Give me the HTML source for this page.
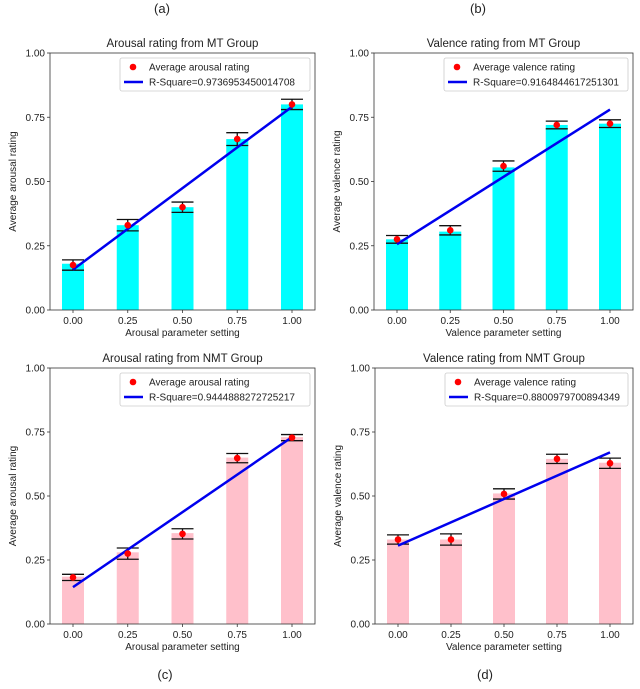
<!DOCTYPE html>
<html><head><meta charset="utf-8"><style>
body{margin:0;background:#fff;font-family:"Liberation Sans","DejaVu Sans",sans-serif;}
svg text{font-family:"Liberation Sans","DejaVu Sans",sans-serif;fill:#222;}
</style></head><body>
<svg id="c" width="640" height="684" viewBox="0 0 640 684" xmlns="http://www.w3.org/2000/svg"></svg>
<script>
const categories=[0,0.25,0.5,0.75,1.0];
const tickLabels=["0.00","0.25","0.50","0.75","1.00"];
const yTicks=[0,0.25,0.5,0.75,1.0];
const barsA=[0.18,0.33,0.40,0.665,0.80];
const meansA=[0.175,0.33,0.40,0.665,0.80];
const errA=[0.02,0.022,0.02,0.025,0.02];
const barsB=[0.275,0.305,0.555,0.72,0.725];
const meansB=[0.275,0.31,0.56,0.72,0.725];
const errB=[0.015,0.018,0.02,0.015,0.015];
const barsC=[0.185,0.28,0.355,0.65,0.73];
const meansC=[0.182,0.275,0.352,0.648,0.728];
const errC=[0.012,0.022,0.02,0.018,0.012];
const barsD=[0.33,0.33,0.51,0.645,0.63];
const meansD=[0.33,0.33,0.508,0.645,0.628];
const errD=[0.018,0.022,0.02,0.018,0.02];
const svg=document.getElementById('c');
const NS="http://www.w3.org/2000/svg";
function mk(tag,attrs,parent){const e=document.createElementNS(NS,tag);for(const k in attrs)e.setAttribute(k,attrs[k]);(parent||svg).appendChild(e);return e;}
function panel(p){
  const g=mk('g',{});
  
  
  const L=p.x0,R=p.x1,T=p.y0,B=p.y1;
  const sx=v=>L+23+(R-L-46)*v;
  const sy=v=>B-(B-T)*v;
  const bw=22;
  p.bars.forEach((v,i)=>{
    const r=mk('rect',{x:sx(categories[i])-bw/2,y:sy(v),width:bw,height:B-sy(v),fill:p.color},g);
    
    
  });
  const n=categories.length;const mx=categories.reduce((a,b)=>a+b)/n;const my=p.means.reduce((a,b)=>a+b)/n;
  let sxy=0,sxx=0;categories.forEach((x,i)=>{sxy+=(x-mx)*(p.means[i]-my);sxx+=(x-mx)*(x-mx);});
  const sl=sxy/sxx,ic=my-sl*mx;
  p.means.forEach((v,i)=>{
    const x=sx(categories[i]);const e=p.err[i];
    const eg=mk('g',{stroke:'#111','stroke-width':1.3},g);
    
    
    mk('line',{x1:x,x2:x,y1:sy(v-e),y2:sy(v+e)},eg);
    mk('line',{x1:x-11,x2:x+11,y1:sy(v-e),y2:sy(v-e)},eg);
    mk('line',{x1:x-11,x2:x+11,y1:sy(v+e),y2:sy(v+e)},eg);
  });
  const fl=mk('line',{x1:sx(0),y1:sy(ic),x2:sx(1),y2:sy(ic+sl),stroke:'#0000ee','stroke-width':2.5},g);
  
  
  p.means.forEach((v,i)=>{
    const c=mk('circle',{cx:sx(categories[i]),cy:sy(v),r:3.3,fill:'#f00'},g);
    
    
  });
  mk('rect',{x:L,y:T,width:R-L,height:B-T,fill:'none',stroke:'#333','stroke-width':0.8},g);
  yTicks.forEach((v,i)=>{
    mk('line',{x1:L-3,x2:L,y1:sy(v),y2:sy(v),stroke:'#333','stroke-width':0.8},g);
    const t=mk('text',{x:L-5,y:sy(v)+3.5,'font-size':10,'text-anchor':'end'},g);t.textContent=tickLabels[i];
    
    
  });
  categories.forEach((v,i)=>{
    mk('line',{x1:sx(v),x2:sx(v),y1:B,y2:B+3,stroke:'#333','stroke-width':0.8},g);
    const t=mk('text',{x:sx(v),y:B+14,'font-size':10,'text-anchor':'middle'},g);t.textContent=tickLabels[i];
    
    
  });
  let t=mk('text',{x:(L+R)/2,y:T-6,'font-size':11.5,'text-anchor':'middle'},g);t.textContent=p.title;
  
  t=mk('text',{x:(L+R)/2,y:B+26,'font-size':10,'text-anchor':'middle'},g);t.textContent=p.xlabel;
  
  t=mk('text',{x:0,y:0,'font-size':10,'text-anchor':'middle',transform:`translate(${L-34},${(T+B)/2}) rotate(-90)`},g);t.textContent=p.ylabel;
  
  const lx=L+70, lw=R-lx-5;
  const lg=mk('g',{},g);
  
  mk('rect',{x:lx,y:T+5,width:lw,height:33,fill:'#fff',stroke:'#ccc','stroke-width':0.8,rx:2},lg);
  mk('circle',{cx:lx+13,cy:T+14,r:3.3,fill:'#f00'},lg);
  t=mk('text',{x:lx+29,y:T+17.5,'font-size':10},lg);t.textContent=p.leg1;
  mk('line',{x1:lx+4,x2:lx+23,y1:T+29,y2:T+29,stroke:'#0000ee','stroke-width':2.5},lg);
  t=mk('text',{x:lx+29,y:T+32.5,'font-size':10},lg);t.textContent=p.leg2;
}
panel({name:'panel-a',x0:50,x1:315,y0:53,y1:310,bars:barsA,means:meansA,err:errA,color:'#00ffff',title:'Arousal rating from MT Group',xlabel:'Arousal parameter setting',ylabel:'Average arousal rating',leg1:'Average arousal rating',leg2:'R-Square=0.9736953450014708'});
panel({name:'panel-b',x0:374,x1:633,y0:53,y1:310,bars:barsB,means:meansB,err:errB,color:'#00ffff',title:'Valence rating from MT Group',xlabel:'Valence parameter setting',ylabel:'Average valence rating',leg1:'Average valence rating',leg2:'R-Square=0.9164844617251301'});
panel({name:'panel-c',x0:50,x1:315,y0:368,y1:624,bars:barsC,means:meansC,err:errC,color:'#ffc0cb',title:'Arousal rating from NMT Group',xlabel:'Arousal parameter setting',ylabel:'Average arousal rating',leg1:'Average arousal rating',leg2:'R-Square=0.9444888272725217'});
panel({name:'panel-d',x0:375,x1:633,y0:368,y1:624,bars:barsD,means:meansD,err:errD,color:'#ffc0cb',title:'Valence rating from NMT Group',xlabel:'Valence parameter setting',ylabel:'Average valence rating',leg1:'Average valence rating',leg2:'R-Square=0.8800979700894349'});
[['(a)',162,13],['(b)',478,13],['(c)',165,679],['(d)',485,679]].forEach(a=>{
  const t=mk('text',{x:a[1],y:a[2],'font-size':13,'text-anchor':'middle'});t.textContent=a[0];
  
  
});
</script>
</body></html>
